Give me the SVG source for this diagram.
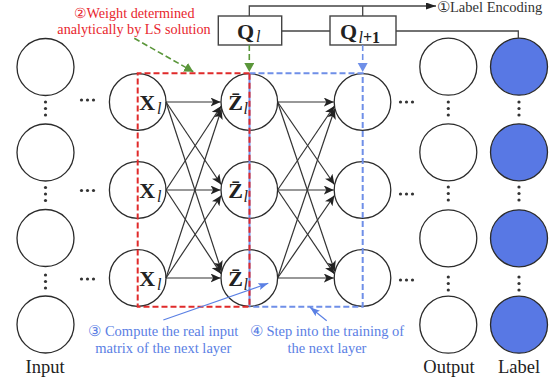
<svg xmlns="http://www.w3.org/2000/svg" width="559" height="385" viewBox="0 0 559 385">
<style>
.n{fill:#fff;stroke:#2b2b2b;stroke-width:1.3}
.lb{fill:#5878e4;stroke:#2b2b2b;stroke-width:1.3}
.e{stroke:#333;stroke-width:1.2;fill:none;marker-end:url(#ah)}
.dot{fill:#333}
.box{fill:#fff;stroke:#444;stroke-width:1.4}
.wire{stroke:#444;stroke-width:1.3;fill:none}
.rd{stroke:#e02a2a;stroke-width:2;stroke-dasharray:6 3;fill:none}
.bd{stroke:#6f8fe8;stroke-width:2;stroke-dasharray:6 3;fill:none}
.gd{stroke:#5a963a;stroke-width:1.6;stroke-dasharray:6 3;fill:none}
.t{font-family:"Liberation Serif",serif;font-size:14.5px}
.big{font-family:"Liberation Serif",serif;font-size:18.5px;fill:#222;text-anchor:middle}
.m{font-family:"Liberation Serif",serif;font-size:22px;font-weight:bold;fill:#222}
.s{font-family:"Liberation Serif",serif;font-size:16px;font-style:italic;fill:#222}
</style>
<defs>
<marker id="ah" markerUnits="userSpaceOnUse" markerWidth="11" markerHeight="9" refX="10" refY="4.5" orient="auto"><path d="M0,0 L10,4.5 L0,9 L2.5,4.5 z" fill="#222"/></marker>
<marker id="ak" markerUnits="userSpaceOnUse" markerWidth="11" markerHeight="7" refX="10" refY="3.5" orient="auto"><path d="M0,0 L10,3.5 L0,7 z" fill="#222"/></marker>
<marker id="ag" markerUnits="userSpaceOnUse" markerWidth="11" markerHeight="11" refX="9" refY="5" orient="auto"><path d="M0,0 L9,5 L0,10 z" fill="#5a963a"/></marker>
<marker id="abl" markerUnits="userSpaceOnUse" markerWidth="11" markerHeight="11" refX="9" refY="5" orient="auto"><path d="M0,0 L9,5 L0,10 z" fill="#6f8fe8"/></marker>
<marker id="ab" markerUnits="userSpaceOnUse" markerWidth="11" markerHeight="7" refX="10" refY="3.5" orient="auto"><path d="M0,0 L10,3.5 L0,7 L2,3.5 z" fill="#5b80e4"/></marker>
</defs>

<g id="input-layer">
<circle class="n" cx="45.5" cy="67" r="28.5"/>
<circle class="n" cx="45.5" cy="152.5" r="28.5"/>
<circle class="n" cx="45.5" cy="238" r="28.5"/>
<circle class="n" cx="45.5" cy="324.5" r="28.5"/>
<g class="dot"><circle cx="45.5" cy="102" r="1.6"/><circle cx="45.5" cy="108.5" r="1.6"/><circle cx="45.5" cy="115" r="1.6"/>
<circle cx="45.5" cy="187.5" r="1.6"/><circle cx="45.5" cy="194" r="1.6"/><circle cx="45.5" cy="200.5" r="1.6"/>
<circle cx="45.5" cy="275" r="1.6"/><circle cx="45.5" cy="281.5" r="1.6"/><circle cx="45.5" cy="288" r="1.6"/>
<circle cx="81.5" cy="100" r="1.6"/><circle cx="87.5" cy="100" r="1.6"/><circle cx="93.5" cy="100" r="1.6"/>
<circle cx="81.5" cy="190.5" r="1.6"/><circle cx="87.5" cy="190.5" r="1.6"/><circle cx="93.5" cy="190.5" r="1.6"/>
<circle cx="81.5" cy="279" r="1.6"/><circle cx="87.5" cy="279" r="1.6"/><circle cx="93.5" cy="279" r="1.6"/></g>
<text class="big" x="45" y="373">Input</text>
</g>

<g id="x-layer">
<circle class="n" cx="137.7" cy="102" r="28.3"/>
<circle class="n" cx="137.7" cy="190" r="28.3"/>
<circle class="n" cx="137.7" cy="278" r="28.3"/>
</g>
<g id="z-layer">
<circle class="n" cx="249.3" cy="102" r="28.3"/>
<circle class="n" cx="249.3" cy="190" r="28.3"/>
<circle class="n" cx="249.3" cy="278" r="28.3"/>
</g>
<g id="next-layer">
<circle class="n" cx="362.5" cy="102" r="28.3"/>
<circle class="n" cx="362.5" cy="190" r="28.3"/>
<circle class="n" cx="362.5" cy="278" r="28.3"/>
<g class="dot"><circle cx="400.5" cy="102" r="1.6"/><circle cx="406.5" cy="102" r="1.6"/><circle cx="412.5" cy="102" r="1.6"/>
<circle cx="400.5" cy="194" r="1.6"/><circle cx="406.5" cy="194" r="1.6"/><circle cx="412.5" cy="194" r="1.6"/>
<circle cx="400.5" cy="280" r="1.6"/><circle cx="406.5" cy="280" r="1.6"/><circle cx="412.5" cy="280" r="1.6"/></g>
</g>

<g id="output-layer">
<circle class="n" cx="448.3" cy="66.7" r="28.5"/>
<circle class="n" cx="448.3" cy="152.3" r="28.5"/>
<circle class="n" cx="448.3" cy="238.3" r="28.5"/>
<circle class="n" cx="448.3" cy="324.7" r="28.5"/>
<g class="dot"><circle cx="448.3" cy="102" r="1.6"/><circle cx="448.3" cy="108.5" r="1.6"/><circle cx="448.3" cy="115" r="1.6"/>
<circle cx="448.3" cy="187" r="1.6"/><circle cx="448.3" cy="193.5" r="1.6"/><circle cx="448.3" cy="200" r="1.6"/>
<circle cx="448.3" cy="277" r="1.6"/><circle cx="448.3" cy="283.5" r="1.6"/><circle cx="448.3" cy="290" r="1.6"/></g>
<text class="big" x="449" y="373">Output</text>
</g>

<g id="label-layer">
<circle class="lb" cx="519" cy="66.7" r="28.5"/>
<circle class="lb" cx="519" cy="152.3" r="28.5"/>
<circle class="lb" cx="519" cy="238.3" r="28.5"/>
<circle class="lb" cx="519" cy="324.7" r="28.5"/>
<g class="dot"><circle cx="519" cy="102" r="1.6"/><circle cx="519" cy="108.5" r="1.6"/><circle cx="519" cy="115" r="1.6"/>
<circle cx="519" cy="187" r="1.6"/><circle cx="519" cy="193.5" r="1.6"/><circle cx="519" cy="200" r="1.6"/>
<circle cx="519" cy="277" r="1.6"/><circle cx="519" cy="283.5" r="1.6"/><circle cx="519" cy="290" r="1.6"/></g>
<text class="big" x="519" y="373">Label</text>
</g>

<g id="q-l">
<rect class="box" x="218.3" y="16" width="63.4" height="29"/>
<text class="m" x="237" y="38.5">Q</text><text class="s" x="256" y="42">l</text>
</g>
<g id="q-l1">
<rect class="box" x="330" y="16" width="66" height="29"/>
<text class="m" x="340" y="38.5">Q</text><text class="s" x="358.5" y="42.5">l<tspan font-style="normal" font-weight="bold">+1</tspan></text>
</g>

<g id="connectors">
<path class="e" d="M166,102 L220.6,102"/>
<path class="e" d="M166,102 L221.2,184.5"/>
<path class="e" d="M166,102 L221.5,271"/>
<path class="e" d="M166,190 L221.2,106"/>
<path class="e" d="M166,190 L220.6,190"/>
<path class="e" d="M166,190 L221.2,274"/>
<path class="e" d="M166,278 L221.5,109"/>
<path class="e" d="M166,278 L221.2,195.5"/>
<path class="e" d="M166,278 L220.6,278"/>
<path class="e" d="M277.6,102 L333.8,102"/>
<path class="e" d="M277.6,102 L334.4,184.5"/>
<path class="e" d="M277.6,102 L334.7,271"/>
<path class="e" d="M277.6,190 L334.4,106"/>
<path class="e" d="M277.6,190 L333.8,190"/>
<path class="e" d="M277.6,190 L334.4,274"/>
<path class="e" d="M277.6,278 L334.7,109"/>
<path class="e" d="M277.6,278 L334.4,195.5"/>
<path class="e" d="M277.6,278 L333.8,278"/>
<path class="wire" d="M249.3,16 V6 H436" marker-end="url(#ak)"/>
<path class="wire" d="M362.7,16 V6"/>
<path class="wire" d="M281.7,31 H330"/>
<path class="wire" d="M396,31 H518.3 V38.2"/>
<path class="gd" d="M249.3,45 V72" marker-end="url(#ag)"/>
<path class="bd" d="M362.7,45 V72" marker-end="url(#abl)" style="stroke-width:1.6"/>
<path class="gd" d="M134.3,38.3 L193.3,71.7" marker-end="url(#ag)"/>
<path class="bd" d="M249.5,73.3 H362.7 V306.7 H249.5"/>
<path d="M249.5,73.3 V306.7" stroke="#6f8fe8" stroke-width="2"/>
<path class="rd" d="M249.5,73.3 H137.7 V306.7 H249.5 V73.3"/>
<path d="M163.3,320 L268.3,283.3" stroke="#5b80e4" stroke-width="1.2" marker-end="url(#ab)"/>
<path d="M326.7,320.7 L310,307.3" stroke="#5b80e4" stroke-width="1.2" marker-end="url(#ab)"/>
</g>

<g id="math-labels">
<text class="m" x="139.3" y="110">X</text><text class="s" x="157" y="113.5">l</text>
<text class="m" x="139.3" y="198">X</text><text class="s" x="157" y="201.5">l</text>
<text class="m" x="139.3" y="286">X</text><text class="s" x="157" y="289.5">l</text>
<text class="m" x="228.3" y="110">Z&#x304;</text><text class="s" x="243.5" y="113.5">l</text>
<text class="m" x="228.3" y="198">Z&#x304;</text><text class="s" x="243.5" y="201.5">l</text>
<text class="m" x="228.3" y="286">Z&#x304;</text><text class="s" x="243.5" y="289.5">l</text>
</g>

<g id="annotations" class="t">
<text x="437" y="12" fill="#333">①Label Encoding</text>
<text x="134" y="18.2" fill="#e8262e" text-anchor="middle" font-size="14.2">②Weight determined</text>
<text x="134" y="34" fill="#e8262e" text-anchor="middle" font-size="14.2">analytically by LS solution</text>
<text x="163.3" y="336" fill="#5b80e4" text-anchor="middle">③ Compute the real input</text>
<text x="163.3" y="353.3" fill="#5b80e4" text-anchor="middle">matrix of the next layer</text>
<text x="327" y="336" fill="#5b80e4" text-anchor="middle">④ Step into the training of</text>
<text x="327" y="353.3" fill="#5b80e4" text-anchor="middle">the next layer</text>
</g>
</svg>
